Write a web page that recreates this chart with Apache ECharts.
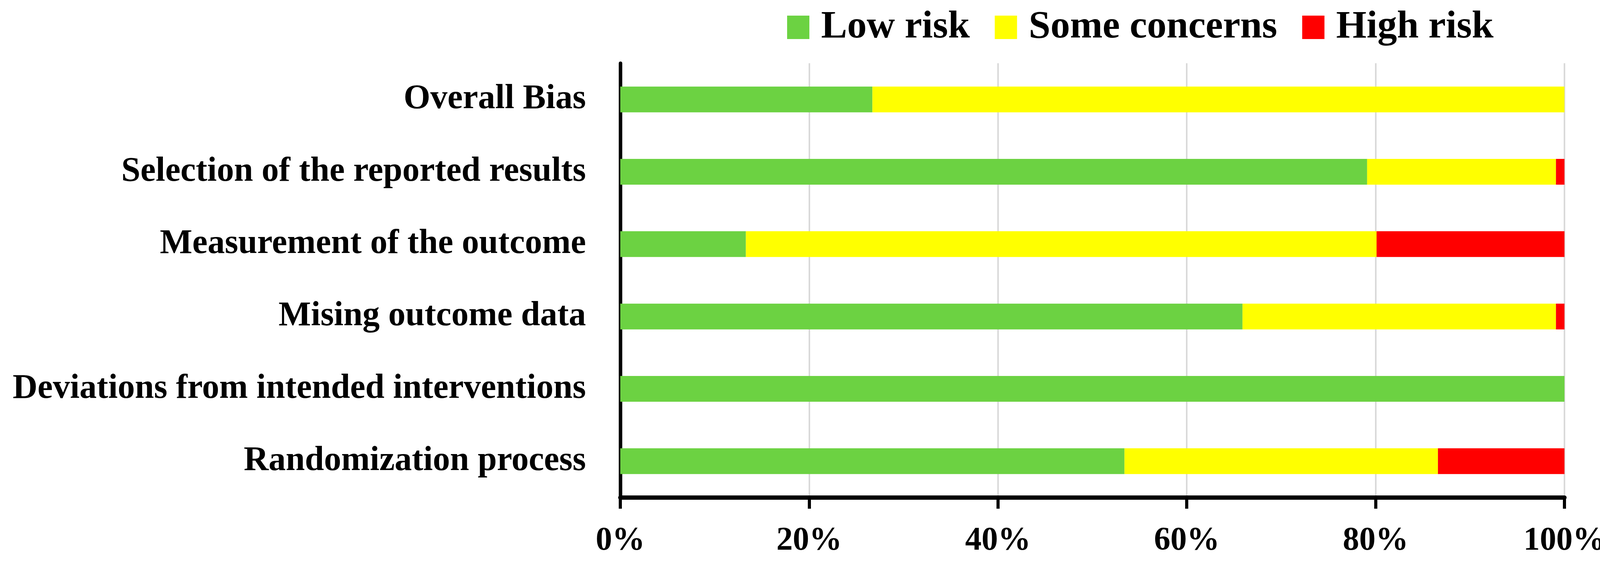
<!DOCTYPE html>
<html>
<head>
<meta charset="utf-8">
<script src="https://cdn.jsdelivr.net/npm/echarts@6/dist/echarts.min.js"></script>
<style>
html,body{margin:0;padding:0;background:#fff;}
#chart{width:4117px;height:1460px;}
</style>
</head>
<body>
<div id="chart"></div>
<script>
var categories = ['Overall Bias', 'Selection of the reported results', 'Measurement of the outcome', 'Mising outcome data', 'Deviations from intended interventions', 'Randomization process'];
var lowRisk = [26.7, 79.1, 13.3, 65.9, 100, 53.4];
var someConcerns = [73.3, 20.0, 66.8, 33.2, 0, 33.2];
var highRisk = [0, 0.9, 19.9, 0.9, 0, 13.4];
var seriesNames = ['Low risk', 'Some concerns', 'High risk'];
var colors = ['#6CD242', '#FFFF00', '#FF0000'];
var xTicks = [0, 20, 40, 60, 80, 100];

var FONT = '"Liberation Serif", "Times New Roman", serif';
var chart = echarts.init(document.getElementById('chart'), null, {renderer: 'canvas'});
var values = [lowRisk, someConcerns, highRisk];
var series = seriesNames.map(function (n, i) {
  return {
    name: n,
    type: 'bar',
    stack: 'total',
    barWidth: 66,
    itemStyle: {color: colors[i]},
    data: values[i]
  };
});
chart.setOption({
  animation: false,
  backgroundColor: '#ffffff',
  color: colors,
  legend: {
    data: seriesNames,
    left: 2010,
    top: 15,
    icon: 'rect',
    itemWidth: 57,
    itemHeight: 60,
    itemGap: 64,
    textStyle: {fontFamily: FONT, fontWeight: 'bold', fontSize: 100, color: '#000', lineHeight: 60, padding: [0, 0, 0, 25]}
  },
  grid: {left: 1588, right: 112, top: 162, bottom: 186, containLabel: false},
  xAxis: {
    type: 'value',
    min: xTicks[0],
    max: xTicks[xTicks.length - 1],
    interval: 20,
    axisLine: {show: true, lineStyle: {color: '#000', width: 11}},
    axisTick: {show: true, length: 29, lineStyle: {color: '#000', width: 8}},
    splitLine: {show: true, lineStyle: {color: '#d9d9d9', width: 4}},
    axisLabel: {formatter: '{value}%', margin: 70, fontFamily: FONT, fontWeight: 'bold', fontSize: 84, color: '#000'}
  },
  yAxis: {
    type: 'category',
    inverse: true,
    data: categories,
    axisLine: {show: true, lineStyle: {color: '#000', width: 9}},
    axisTick: {show: false},
    axisLabel: {margin: 88, fontFamily: FONT, fontWeight: 'bold', fontSize: 88, color: '#000'}
  },
  series: series
});
</script>
</body>
</html>
